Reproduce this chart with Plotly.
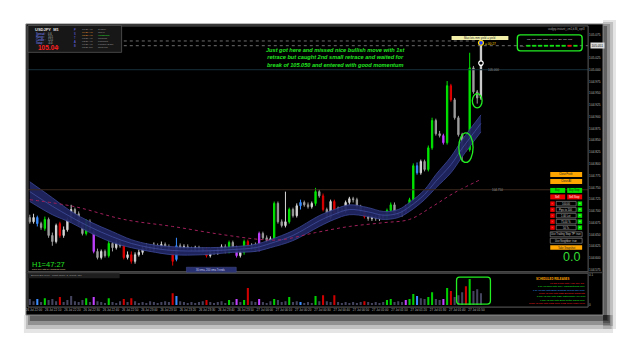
import plotly.graph_objects as go

W, H = 625, 340

# ---------------- data ----------------
opens = [
    104.686, 104.677, 104.686, 104.673, 104.663, 104.682, 104.648, 104.635, 104.673, 104.648,
    104.660, 104.682, 104.703, 104.694, 104.673, 104.652, 104.677, 104.656, 104.614, 104.601,
    104.614, 104.605, 104.631, 104.622, 104.633, 104.626, 104.601, 104.607, 104.593, 104.607,
    104.612, 104.620, 104.624, 104.618, 104.626, 104.622, 104.629, 104.624, 104.620, 104.597,
    104.626, 104.622, 104.624, 104.620, 104.618, 104.622, 104.616, 104.618, 104.605, 104.614,
    104.612, 104.618, 104.624, 104.614, 104.633, 104.622, 104.605, 104.612, 104.635, 104.622,
    104.626, 104.618, 104.652, 104.643, 104.637, 104.639, 104.716, 104.677, 104.669, 104.677,
    104.703, 104.690, 104.711, 104.718, 104.713, 104.709, 104.716, 104.741, 104.732, 104.703,
    104.686, 104.720, 104.696, 104.705, 104.701, 104.718, 104.726, 104.724, 104.709, 104.701,
    104.688, 104.684, 104.688, 104.684, 104.690, 104.686, 104.701, 104.713, 104.694, 104.692,
    104.699, 104.709, 104.724, 104.796, 104.781, 104.805, 104.788, 104.834, 104.892, 104.864,
    104.860, 104.845, 104.966, 104.936, 104.898, 104.862, 104.841, 104.830, 105.004, 104.953,
    104.940]
highs = [
    104.692, 104.694, 104.690, 104.677, 104.688, 104.686, 104.654, 104.673, 104.677, 104.667,
    104.686, 104.713, 104.707, 104.699, 104.677, 104.682, 104.682, 104.660, 104.620, 104.618,
    104.618, 104.639, 104.635, 104.639, 104.637, 104.631, 104.614, 104.614, 104.612, 104.618,
    104.626, 104.631, 104.629, 104.633, 104.631, 104.635, 104.633, 104.629, 104.624, 104.643,
    104.631, 104.629, 104.629, 104.624, 104.626, 104.626, 104.622, 104.622, 104.618, 104.618,
    104.622, 104.629, 104.629, 104.637, 104.637, 104.626, 104.616, 104.639, 104.639, 104.631,
    104.633, 104.656, 104.656, 104.648, 104.646, 104.720, 104.720, 104.682, 104.741, 104.707,
    104.707, 104.716, 104.724, 104.722, 104.718, 104.720, 104.749, 104.745, 104.737, 104.707,
    104.724, 104.724, 104.709, 104.709, 104.722, 104.730, 104.730, 104.728, 104.713, 104.705,
    104.692, 104.692, 104.692, 104.694, 104.694, 104.705, 104.718, 104.718, 104.699, 104.703,
    104.713, 104.728, 104.801, 104.803, 104.809, 104.809, 104.839, 104.898, 104.896, 104.870,
    104.864, 104.976, 104.970, 104.940, 104.902, 104.866, 104.845, 105.036, 105.008, 104.957,
    105.057]
lows = [
    104.673, 104.673, 104.667, 104.660, 104.658, 104.643, 104.626, 104.631, 104.643, 104.643,
    104.656, 104.677, 104.686, 104.669, 104.648, 104.648, 104.656, 104.610, 104.597, 104.597,
    104.601, 104.601, 104.614, 104.618, 104.622, 104.597, 104.597, 104.588, 104.588, 104.603,
    104.607, 104.616, 104.614, 104.614, 104.618, 104.618, 104.620, 104.616, 104.584, 104.593,
    104.618, 104.618, 104.616, 104.614, 104.614, 104.612, 104.612, 104.601, 104.601, 104.607,
    104.607, 104.614, 104.610, 104.610, 104.618, 104.601, 104.601, 104.607, 104.618, 104.618,
    104.614, 104.614, 104.639, 104.633, 104.633, 104.637, 104.673, 104.665, 104.665, 104.673,
    104.686, 104.686, 104.703, 104.709, 104.705, 104.705, 104.711, 104.728, 104.699, 104.682,
    104.682, 104.692, 104.692, 104.696, 104.696, 104.713, 104.718, 104.705, 104.696, 104.684,
    104.679, 104.679, 104.679, 104.679, 104.682, 104.682, 104.696, 104.690, 104.688, 104.688,
    104.694, 104.705, 104.720, 104.777, 104.777, 104.784, 104.784, 104.830, 104.860, 104.856,
    104.841, 104.841, 104.932, 104.894, 104.858, 104.805, 104.826, 104.826, 104.949, 104.928,
    104.936]
closes = [
    104.677, 104.686, 104.673, 104.665, 104.682, 104.648, 104.635, 104.669, 104.648, 104.660,
    104.682, 104.703, 104.694, 104.673, 104.652, 104.677, 104.660, 104.614, 104.601, 104.614,
    104.605, 104.631, 104.622, 104.633, 104.626, 104.601, 104.607, 104.593, 104.607, 104.612,
    104.620, 104.624, 104.618, 104.626, 104.622, 104.629, 104.624, 104.620, 104.593, 104.626,
    104.622, 104.624, 104.620, 104.618, 104.622, 104.616, 104.618, 104.605, 104.614, 104.612,
    104.618, 104.624, 104.614, 104.633, 104.622, 104.605, 104.612, 104.635, 104.622, 104.626,
    104.618, 104.652, 104.643, 104.637, 104.641, 104.716, 104.677, 104.669, 104.677, 104.703,
    104.690, 104.711, 104.718, 104.713, 104.709, 104.716, 104.741, 104.732, 104.703, 104.686,
    104.720, 104.696, 104.705, 104.701, 104.718, 104.726, 104.724, 104.709, 104.701, 104.688,
    104.684, 104.688, 104.684, 104.690, 104.686, 104.701, 104.713, 104.694, 104.692, 104.699,
    104.709, 104.724, 104.796, 104.781, 104.805, 104.788, 104.834, 104.892, 104.864, 104.860,
    104.845, 104.966, 104.936, 104.898, 104.862, 104.826, 104.830, 105.004, 104.953, 104.940,
    105.051]

green_bars = [4, 15, 21, 53, 57, 65, 69, 76, 95, 96, 101, 102, 106, 107, 111, 117]
red_bars = [8, 25, 27, 38, 47, 58, 78, 81, 89, 112, 116]
purple_bars = [17, 55, 61, 100, 110]
blue_bars = [2, 39, 72, 103]

volume = [
    0.020, 0.013, 0.020, 0.010, 0.023, 0.017, 0.020, 0.013, 0.027, 0.010,
    0.017, 0.030, 0.013, 0.010, 0.017, 0.023, 0.010, 0.027, 0.013, 0.010,
    0.007, 0.023, 0.010, 0.007, 0.013, 0.020, 0.010, 0.023, 0.013, 0.007,
    0.010, 0.007, 0.013, 0.010, 0.007, 0.010, 0.013, 0.010, 0.040, 0.030,
    0.013, 0.010, 0.007, 0.010, 0.007, 0.010, 0.013, 0.017, 0.010, 0.007,
    0.010, 0.013, 0.007, 0.017, 0.010, 0.020, 0.010, 0.017, 0.057, 0.013,
    0.010, 0.020, 0.010, 0.007, 0.013, 0.020, 0.017, 0.010, 0.013, 0.027,
    0.010, 0.013, 0.010, 0.007, 0.010, 0.007, 0.030, 0.013, 0.033, 0.013,
    0.010, 0.033, 0.010, 0.007, 0.010, 0.007, 0.010, 0.007, 0.010, 0.013,
    0.010, 0.007, 0.010, 0.007, 0.010, 0.017, 0.020, 0.010, 0.013, 0.010,
    0.017, 0.020, 0.037, 0.030, 0.023, 0.020, 0.027, 0.043, 0.020, 0.017,
    0.020, 0.057, 0.047, 0.027, 0.033, 0.043, 0.063, 0.087, 0.047, 0.053,
    0.040]

ribbon_at = [0, 6, 11, 16, 22, 27, 32, 38, 46, 54, 60, 64, 70, 77, 81, 85, 90, 94, 98, 101, 105, 108, 112, 115, 120]
ribbon_upper = [104.762, 104.728, 104.699, 104.677, 104.656, 104.639, 104.629, 104.624, 104.622, 104.624,
                104.629, 104.639, 104.658, 104.690, 104.703, 104.713, 104.707, 104.699, 104.703, 104.718,
                104.745, 104.777, 104.815, 104.851, 104.904]
ribbon_mid = [104.741, 104.710, 104.687, 104.666, 104.645, 104.631, 104.622, 104.616, 104.615, 104.618,
              104.622, 104.631, 104.648, 104.679, 104.693, 104.703, 104.698, 104.691, 104.695, 104.709,
              104.735, 104.763, 104.798, 104.833, 104.886]
ribbon_lower = [104.720, 104.692, 104.675, 104.654, 104.633, 104.622, 104.614, 104.607, 104.607, 104.612,
                104.614, 104.622, 104.637, 104.667, 104.682, 104.692, 104.688, 104.682, 104.686, 104.699,
                104.724, 104.749, 104.781, 104.815, 104.868]

ema200_at = [0, 12, 25, 38, 51, 62, 67, 76, 85, 94, 101, 107, 113, 120]
ema200 = [104.724, 104.709, 104.682, 104.667, 104.650, 104.639, 104.639, 104.654, 104.667, 104.675,
          104.682, 104.709, 104.739, 104.767]

price_ticks = [105.075, 105.050, 105.025, 105.000, 104.975, 104.950, 104.925, 104.900, 104.875, 104.850,
               104.825, 104.800, 104.775, 104.750, 104.725, 104.700, 104.675, 104.650, 104.625, 104.600,
               104.575]
time_labels = ["26 Jul 22:00", "26 Jul 22:10", "26 Jul 22:20", "26 Jul 22:30", "26 Jul 22:40", "26 Jul 22:50",
               "26 Jul 23:00", "26 Jul 23:10", "26 Jul 23:20", "26 Jul 23:30", "26 Jul 23:40", "26 Jul 23:50",
               "27 Jul 00:00", "27 Jul 00:10", "27 Jul 00:20", "27 Jul 00:30", "27 Jul 00:40", "27 Jul 00:50",
               "27 Jul 01:00", "27 Jul 01:10", "27 Jul 01:20", "27 Jul 01:30", "27 Jul 01:40", "27 Jul 01:50"]

levels = [105.000, 104.745]
level_names = ["105.000", "104.750"]
stop_line = 105.061
bid_price = 105.051
entry_price = 105.014
circled_bars = [115, 119]

note_lines = ["Just got here and missed nice bullish move with 1st",
              "retrace but caught 2nd small retrace and waited for",
              "break of 105.050 and entered with good momentum"]

timeframes = ["M1", "M5", "M15", "M30", "H1", "H4", "D1", "W1", "MN"]
tf_trend_up = [True, True, True, True, True, True, True, False, True]

releases = [("17 hrs 8 min until AUD CPI q/q", "#ff2020"),
            ("1 hr 45 mins until CNY Manufacturing PMI", "#20ee20"),
            ("1 hr 45 min until EUR German Prelim CPI m/m", "#3aa0ff"),
            ("8 hrs 45 min until NZD Building Consents", "#ff2020"),
            ("5 hrs 45 min until GBP Nationwide HPI m/m", "#20ee20"),
            ("6 hrs 45 min until EUR Retail Sales m/m", "#20ee20"),
            ("2 hrs 45 min until USD Core PCE Price Index m/m", "#ff2020")]

sessions = ["Sydney", "Tokyo", "Hongkong", "Moscow", "Frankfurt", "London (DST)", "Newyork"]
session_times = ["10:20 AM", "09:20 AM", "08:20 AM", "03:20 AM", "02:20 AM", "01:20 AM", "08:20 PM"]
param_labels = ["100.00", "Pips to 100", "1.00 Lot", "75.00 %", "50 Ts"]

# ---------------- helpers ----------------
def X(px):
    return px / W


def Y(py):
    return 1 - py / H


shapes = []
annotations = []


def rect(x0, y0, x1, y1, fill=None, line=None, lw=1, layer="above", opacity=1):
    shapes.append(dict(type="rect", xref="paper", yref="paper", x0=X(x0), x1=X(x1), y0=Y(y1), y1=Y(y0),
                       fillcolor=fill or "rgba(0,0,0,0)", line=dict(color=line or "rgba(0,0,0,0)", width=lw if line else 0),
                       layer=layer, opacity=opacity))


def text(px, py, s, size=3.2, color="#cccccc", xanchor="left", bg=None, family=None):
    d = dict(x=X(px), y=Y(py), xref="paper", yref="paper", text=s, showarrow=False, xanchor=xanchor,
             yanchor="middle", font=dict(size=size, color=color), borderpad=0)
    if family:
        d["font"]["family"] = family
    if bg:
        d["bgcolor"] = bg
    annotations.append(d)


def rounded(x0, y0, x1, y1, r, color, lw=1.3):
    pts = (f"M {X(x0 + r)},{Y(y0)} L {X(x1 - r)},{Y(y0)} Q {X(x1)},{Y(y0)} {X(x1)},{Y(y0 + r)} "
           f"L {X(x1)},{Y(y1 - r)} Q {X(x1)},{Y(y1)} {X(x1 - r)},{Y(y1)} L {X(x0 + r)},{Y(y1)} "
           f"Q {X(x0)},{Y(y1)} {X(x0)},{Y(y1 - r)} L {X(x0)},{Y(y0 + r)} Q {X(x0)},{Y(y0)} {X(x0 + r)},{Y(y0)} Z")
    shapes.append(dict(type="path", xref="paper", yref="paper", path=pts, line=dict(color=color, width=lw)))


# ---------------- frame / shadow ----------------
for k, a in enumerate([0.10, 0.16, 0.24, 0.34]):
    rect(22 + k * 2, 316, 613 - k * 1.5, 334 - k * 4, fill="#000000", layer="below", opacity=a)
    rect(603, 20 + k * 2, 616 - k * 3, 330 - k * 3, fill="#000000", layer="below", opacity=a)
rect(24, 24, 603, 316, fill="#000000", line="#8a8a8a", lw=1, layer="below")

# ---------------- traces ----------------
fig = go.Figure()
n = len(closes)
idx = list(range(n))

# EMA ribbon
fig.add_trace(go.Scatter(x=ribbon_at, y=ribbon_lower, mode="lines", line=dict(color="#3c4896", width=0.8, shape="spline"),
                         hoverinfo="skip", showlegend=False))
fig.add_trace(go.Scatter(x=ribbon_at, y=ribbon_upper, mode="lines", line=dict(color="#3c4896", width=0.8, shape="spline"),
                         fill="tonexty", fillcolor="rgba(32,38,96,0.95)", hoverinfo="skip", showlegend=False))
fig.add_trace(go.Scatter(x=ribbon_at, y=ribbon_mid, mode="lines", line=dict(color="#4653a6", width=0.7, shape="spline"),
                         hoverinfo="skip", showlegend=False))
# 200 EMA
fig.add_trace(go.Scatter(x=ema200_at, y=ema200, mode="lines", line=dict(color="#a0205a", width=1, dash="dot", shape="spline"),
                         hoverinfo="skip", showlegend=False))

coloured = set(green_bars + red_bars + purple_bars + blue_bars)
gray_bars = [i for i in idx if i not in coloured]


def candles(sel, inc, dec):
    fig.add_trace(go.Candlestick(
        x=sel, open=[opens[i] for i in sel], high=[highs[i] for i in sel],
        low=[lows[i] for i in sel], close=[closes[i] for i in sel],
        increasing=dict(line=dict(color=inc, width=1), fillcolor=inc),
        decreasing=dict(line=dict(color=dec, width=1), fillcolor=dec),
        whiskerwidth=0, hoverinfo="skip", showlegend=False, xaxis="x", yaxis="y"))


candles(gray_bars, "#d6d6d6", "#9c9c9c")
candles(green_bars, "#00e600", "#00e600")
candles(red_bars, "#e00000", "#e00000")
candles(purple_bars, "#c040ff", "#c040ff")
candles(blue_bars, "#3a8cff", "#3a8cff")

# markers on current bar
last = n - 1
fig.add_trace(go.Scatter(x=[last], y=[entry_price], mode="markers",
                         marker=dict(symbol="circle", size=4.5, color="#000", line=dict(color="#ffffff", width=1.2)),
                         hoverinfo="skip", showlegend=False))
fig.add_trace(go.Scatter(x=[last], y=[highs[last]], mode="markers",
                         marker=dict(symbol="circle", size=5, color="#2840ff", line=dict(color="#ffd800", width=1.2)),
                         hoverinfo="skip", showlegend=False))

# volume / indicator bars
vol_colour = []
for i in idx:
    if i in green_bars:
        vol_colour.append("#00d000")
    elif i in red_bars:
        vol_colour.append("#d00000")
    elif i in purple_bars:
        vol_colour.append("#c040ff")
    elif i in blue_bars:
        vol_colour.append("#3a8cff")
    else:
        vol_colour.append("#44445f")
fig.add_trace(go.Bar(x=idx, y=volume, marker=dict(color=vol_colour, line=dict(width=0)), xaxis="x2", yaxis="y2",
                     hoverinfo="skip", showlegend=False))

# ---------------- level lines ----------------
level_cols = ["#17303c", "#3c2a1c"]
for v, c in zip(levels, level_cols):
    shapes.append(dict(type="line", xref="paper", yref="y", x0=X(26), x1=X(588), y0=v, y1=v,
                       line=dict(color=c, width=1)))
shapes.append(dict(type="line", xref="x", yref="y", x0=25, x1=last - 1, y0=stop_line, y1=stop_line,
                   line=dict(color="#8a8a8a", width=0.8, dash="dot")))
shapes.append(dict(type="line", xref="x", yref="y", x0=25, x1=148.5, y0=bid_price, y1=bid_price,
                   line=dict(color="#8a8a8a", width=0.8, dash="dot")))
for v, s, px in zip(levels, level_names, [486, 490]):
    annotations.append(dict(x=X(px), y=v, xref="paper", yref="y", text=s, showarrow=False, xanchor="left",
                            yanchor="middle", font=dict(size=3, color="#9a9a9a")))

# ellipses around the retrace lows
ell = [(1.9, 1.9, 0.002, 0.061), (1.3, 1.3, 0.009, 0.021)]
for (b, (dl, dr, dn, up)) in zip(circled_bars, ell):
    cx = b + 1.0 if b == circled_bars[0] else b
    shapes.append(dict(type="circle", xref="x", yref="y", x0=cx - dl, x1=cx + dr,
                       y0=lows[b] - dn, y1=lows[b] + up, line=dict(color="#22ee22", width=1.3)))

# ---------------- chart frames ----------------
rect(26, 26, 588, 272.5, line="#5e5e5e", lw=1)
rect(26, 274, 588, 308, line="#5e5e5e", lw=1)
rect(24, 272.5, 603, 274, fill="#3a3a3a")

# ---------------- texts ----------------
note = "<br>".join(f"<b><i>{t}</i></b>" for t in note_lines)
annotations.append(dict(x=X(335), y=Y(58), xref="paper", yref="paper", text=note, showarrow=False,
                        font=dict(size=5.6, color="#22e622", family="Liberation Sans, Arial"), align="center",
                        xanchor="center", yanchor="middle"))

# info panel
rect(26, 25.5, 120, 52.5, fill="#171717", line="#555555", lw=0.8)
text(32, 29.5, "<b>USDJPY  M1</b>", 4, "#e0e0e0")
for k, (lab, val) in enumerate([("Spread :", "0.6"), ("Range :", "10.5"), ("Candle :", "12.0"), ("Swap :", "-0.0")]):
    text(33, 34 + k * 2.9, lab, 2.6, "#7f8cff")
    text(45, 34 + k * 2.9, val, 2.6, "#bbbbbb")
text(35, 47.8, "<b>105.04</b>", 6.5, "#ff2020")
text(54, 48.5, "8", 3, "#ff2020")
for k, ch in enumerate("PSTAB"):
    text(71, 30 + k * 4, ch, 2.6, "#6f6fff")
for k, (t, s) in enumerate(zip(session_times, sessions)):
    tc = "#e89a30" if k in (1, 2) else "#9a9a9a"
    sc = "#30e030" if k == 2 else "#9a9a9a"
    text(79, 29.3 + k * 3, t, 2.5, tc)
    text(95, 29.3 + k * 3, s, 2.5, sc)

# top right
text(586, 29, "usdjpy-instant_i,m1,b36_opt3", 2.8, "#a0a0a0", xanchor="right")
rect(451, 36, 508, 40, fill="#f2f0a8")
text(479.5, 38, "Max lots mm yield = yield", 2.8, "#303030", xanchor="center")
text(484, 44.5, "= 00:27", 3.2, "#ffd800")
rounded(517, 35, 582, 51, 3, "#22ee22", 1.4)
text(549.5, 39.5, "  ".join(timeframes), 2.5, "#e0e0e0", xanchor="center")
text(519, 45.8, "Line", 2.3, "#9a9a9a")
for k, up in enumerate(tf_trend_up):
    x0 = 526 + k * 5.9
    rect(x0, 45, x0 + 4.2, 46.8, fill="#10e010" if up else "#ee1010")

# price highlight on axis (replaces the plain tick label at that level)
annotations.append(dict(x=X(589.5), y=bid_price, xref="paper", yref="y", text=f"{bid_price:.3f}", showarrow=False,
                        xanchor="left", yanchor="middle", font=dict(size=3.2, color="#000000"),
                        bgcolor="#dcdcdc", borderpad=0.6))
tick_text = ["" if abs(v - bid_price) < 0.005 else f"{v:.3f}" for v in price_ticks]

# right side buttons
def button(x0, y0, x1, y1, fill, label, tcol, border=None):
    rect(x0, y0, x1, y1, fill=fill, line=border, lw=0.6)
    text((x0 + x1) / 2, (y0 + y1) / 2, label, 2.6, tcol, xanchor="center")


button(550, 172.5, 582, 177.5, "#ffa500", "Close Profit", "#202020")
button(550, 179.5, 582, 184.5, "#ffa500", "Close All", "#202020")
button(550, 188.5, 565, 193.5, "#00dd00", "Buy", "#102010")
button(567, 188.5, 582, 193.5, "#00dd00", "Buy Stop", "#102010")
button(550, 195, 565, 200, "#ee0000", "Sell", "#ffffff")
button(567, 195, 582, 200, "#ee0000", "Sell Stop", "#ffffff")
for k, lab in enumerate(param_labels):
    y0 = 202 + 6 * k
    button(550, y0, 554.5, y0 + 4.5, "#ee0000", "-", "#ffffff")
    button(556, y0, 576, y0 + 4.5, "#000000", lab, "#d0d0d0", border="#9a9a9a")
    button(577.5, y0, 582, y0 + 4.5, "#00dd00", "+", "#ffffff")
button(550, 232.5, 582, 237.5, "#000000", "Use Trailing Stop TP: true", "#d0d0d0", border="#9a9a9a")
button(550, 239, 582, 244, "#000000", "Use Neighbor: true", "#d0d0d0", border="#9a9a9a")
button(550, 246, 582, 250.5, "#ffa500", "Take Snapshot", "#202020")
text(571.5, 258, "0.0", 12.5, "#33dd33", xanchor="center")

# bottom left texts
text(29, 265.5, "H1=47:27", 7.5, "#22e022")
text(29, 270.3, "Free PFI bits by TradersHome", 2.5, "#e8d8a0")
rect(185, 268, 235, 273, fill="#283070", line="#4a5290", lw=0.5)
text(210, 270.5, "30 ema, 200 ema Trends", 2.6, "#d0d0f0", xanchor="center")

# indicator window texts
rect(26, 274, 118, 279, fill="#1e1e1e")
text(28, 276.5, "Broken Bar Price - Chart Scale: 2, Count: 150", 2.5, "#a0a0a0")
text(552, 280, "<b>SCHEDULED RELEASES</b>", 2.8, "#ffa500", xanchor="center")
for k, (s, c) in enumerate(releases):
    text(586, 284.5 + k * 3.3, s, 2.5, c, xanchor="right")
rounded(456, 278, 490, 305, 3, "#22ee22", 1.3)

# ---------------- layout ----------------
time_pos = [1.1 + 5.117 * k for k in range(len(time_labels))]
fig.update_layout(
    width=W, height=H, margin=dict(l=0, r=0, t=0, b=0),
    paper_bgcolor="#ffffff", plot_bgcolor="rgba(0,0,0,0)", showlegend=False, boxmode="overlay",
    boxgap=0.5, bargap=0.45,
    font=dict(family="Liberation Sans, Arial, sans-serif"),
    xaxis=dict(domain=[X(26), X(588)], range=[-0.5, 148.5], showticklabels=False, showgrid=False,
               zeroline=False, showline=False, rangeslider=dict(visible=False), anchor="y"),
    yaxis=dict(domain=[Y(272), Y(26)], range=[104.572, 105.093], side="right", tickvals=price_ticks,
               ticktext=tick_text, tickfont=dict(size=3.2, color="#b4b4b4"),
               showgrid=False, zeroline=False, ticks="", anchor="x"),
    xaxis2=dict(domain=[X(26), X(588)], range=[-0.5, 148.5], tickvals=time_pos, ticktext=time_labels,
                tickfont=dict(size=3, color="#b4b4b4"), showgrid=False, zeroline=False, ticks="",
                anchor="y2", rangeslider=dict(visible=False)),
    yaxis2=dict(domain=[Y(308), Y(274)], range=[-0.0067, 0.1067], side="right", tickvals=[0, 0.1],
                ticktext=["0", "0.1"], tickfont=dict(size=3, color="#b4b4b4"), showgrid=False,
                zeroline=False, ticks="", anchor="x2"),
    shapes=shapes, annotations=annotations,
)

fig.write_html("out.html")
